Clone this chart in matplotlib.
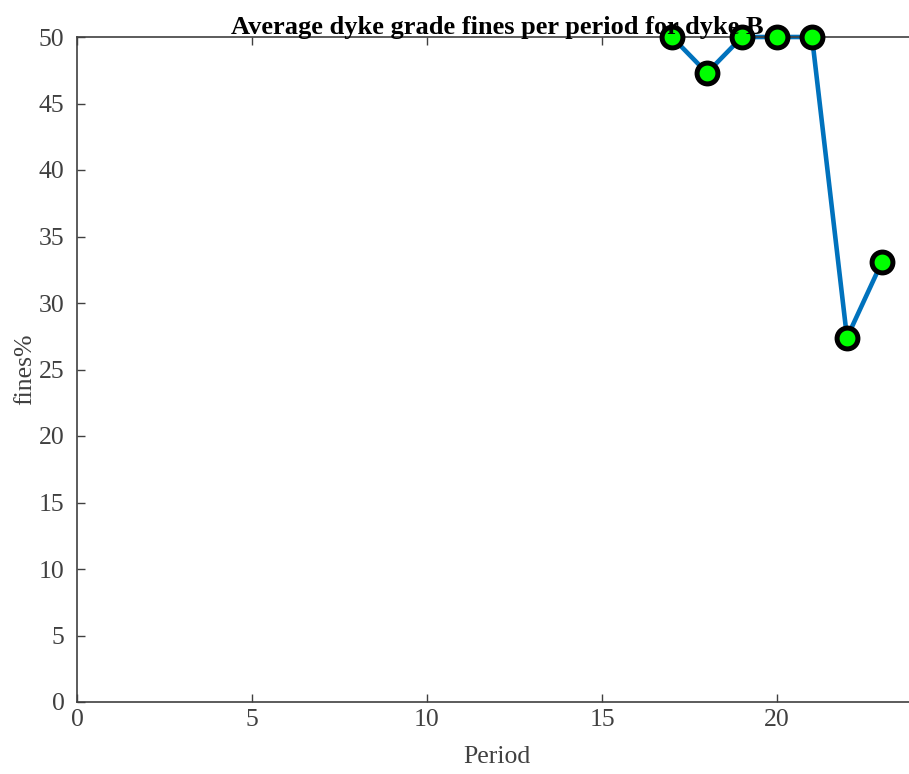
import matplotlib
matplotlib.use("Agg")
import matplotlib.pyplot as plt

period = [17, 18, 19, 20, 21, 22, 23]
fines = [50.0, 47.3, 50.0, 50.0, 50.0, 27.4, 33.1]
x_ticks = [0, 5, 10, 15, 20]
y_ticks = [0, 5, 10, 15, 20, 25, 30, 35, 40, 45, 50]

plt.rcParams['font.family'] = ['Liberation Serif', 'DejaVu Serif']

fig = plt.figure(figsize=(9.09, 7.74), dpi=100)
ax = fig.add_axes([77 / 909, 72 / 774, 840 / 909, 665 / 774])

ax.plot(period, fines, color='#0072BD', linewidth=3.3, zorder=2, clip_on=False)
ax.plot(period, fines, linestyle='none', marker='o', markersize=15,
        markerfacecolor='#00FF00', markeredgecolor='black', markeredgewidth=3.6,
        zorder=3, clip_on=False)

ax.set_xlim(0, 24)
ax.set_ylim(0, 50)
ax.set_xticks(x_ticks)
ax.set_yticks(y_ticks)
ax.tick_params(direction='in', length=6, width=1, top=True, right=True,
               labelsize=18.5, colors='#404040')
ax.tick_params(axis='y', pad=9)
ax.tick_params(axis='x', pad=5)
for sp in ax.spines.values():
    sp.set_color('#404040')
    sp.set_linewidth(1.2)

ax.set_xlabel('Period', fontsize=18.5, color='#404040', labelpad=11)
ax.set_ylabel('fines%', fontsize=18.5, color='#404040', labelpad=2)
ax.set_title('Average dyke grade fines per period for dyke B', fontsize=19,
             fontweight='bold', pad=2)

fig.savefig('out.png', dpi=100)
